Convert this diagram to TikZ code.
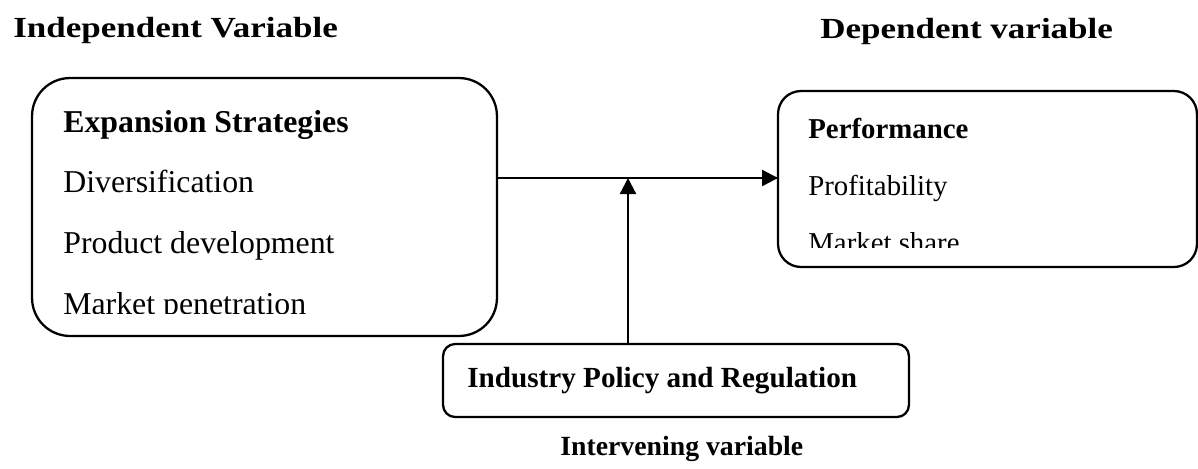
\documentclass[tikz,border=0pt]{standalone}
\usepackage{fontspec}
\setmainfont{Liberation Serif}
\newfontfamily\headfont[FakeStretch=1.2]{Liberation Serif}
\usetikzlibrary{arrows.meta}
\tikzset{box/.style={draw,line width=1.3pt,inner sep=0pt,outer sep=0pt},arr/.style={-{Triangle[length=0.32cm,width=0.32cm]},line width=1.3pt},txt/.style={anchor=base west,inner sep=0pt}}

\begin{document}
\begin{tikzpicture}[x=0.02cm,y=-0.02cm]
\useasboundingbox (0,0) rectangle (1198,468);
% headings
\node[txt,font=\headfont\fontsize{16.6}{18}\selectfont\bfseries] (hind) at (13,37) {Independent Variable};
\node[txt,font=\headfont\fontsize{16.6}{18}\selectfont\bfseries] (hdep) at (820,38) {Dependent variable};
\node[txt,font=\fontsize{15.8}{18}\selectfont\bfseries] (hint) at (560,455) {Intervening variable};
% boxes
\node[box,rounded corners=0.76cm,minimum width=9.3cm,minimum height=5.16cm] (exp) at (264.5,207) {};
\node[box,rounded corners=0.46cm,minimum width=8.38cm,minimum height=3.52cm] (perf) at (987.5,179) {};
\node[box,rounded corners=0.24cm,minimum width=9.32cm,minimum height=1.46cm] (ind) at (676,380.5) {};
% box texts
\node[txt,font=\fontsize{18.1}{20}\selectfont\bfseries] (e0) at (63,132) {Expansion Strategies};
\node[txt,font=\fontsize{18.1}{20}\selectfont] (e1) at (63,192) {Diversification};
\node[txt,font=\fontsize{18.1}{20}\selectfont] (e2) at (63,253) {Product development};
\begin{scope}\clip (0,0) rectangle (1198,313.5);
\node[txt,font=\fontsize{18.1}{20}\selectfont] (e3) at (63,314) {Market penetration};
\end{scope}
\node[txt,font=\fontsize{16.4}{18}\selectfont\bfseries] (p0) at (808,138) {Performance};
\node[txt,font=\fontsize{16.4}{18}\selectfont] (p1) at (808,195) {Profitability};
\begin{scope}\clip (0,0) rectangle (1198,247);
\node[txt,font=\fontsize{16.4}{18}\selectfont] (p2) at (808,252) {Market share};
\end{scope}
\node[txt,font=\fontsize{16.6}{18}\selectfont\bfseries] (i0) at (467,387) {Industry Policy and Regulation};
% arrows
\coordinate (j) at (628,178);
\draw[arr] (exp.east |- j) -- (perf.west |- j);
\draw[arr] (ind.north -| j) -- (j);
\end{tikzpicture}
\end{document}
